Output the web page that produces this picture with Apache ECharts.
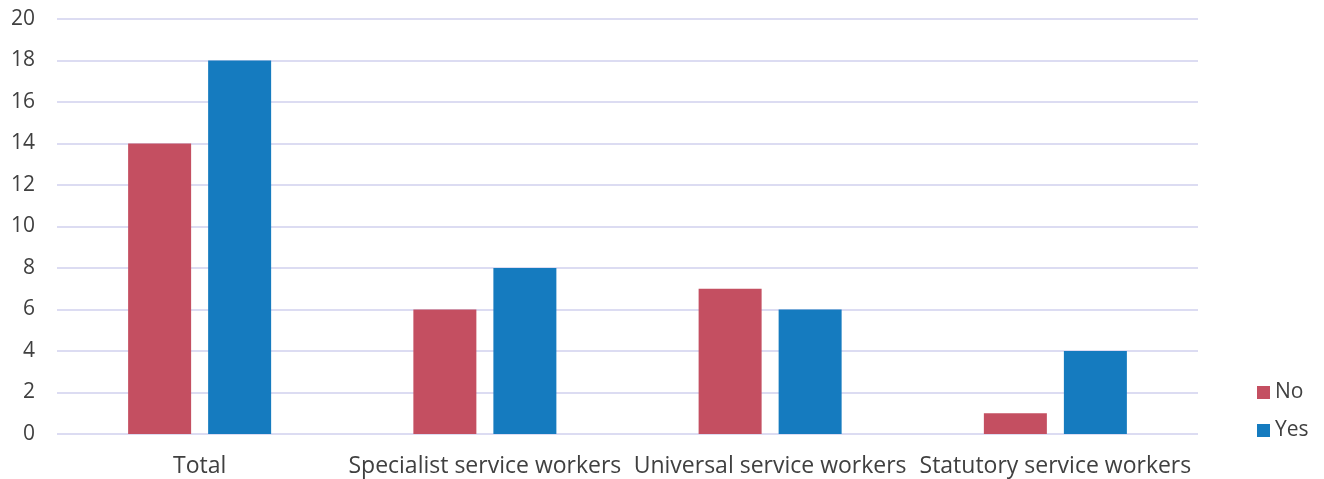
<!DOCTYPE html>
<html>
<head>
<meta charset="utf-8">
<script src="https://cdn.jsdelivr.net/npm/echarts@6/dist/echarts.min.js"></script>
<style>
  html, body { margin: 0; padding: 0; background: #fff; }
  #chart { width: 1324px; height: 479px; }
</style>
</head>
<body>
<div id="chart"></div>
<script>
const categories = ['Total', 'Specialist service workers', 'Universal service workers', 'Statutory service workers'];
const noValues = [14, 6, 7, 1];
const yesValues = [18, 8, 6, 4];
const yTicks = [0, 2, 4, 6, 8, 10, 12, 14, 16, 18, 20];

const FONT = '"Open Sans", "DejaVu Sans", sans-serif';
const chart = echarts.init(document.getElementById('chart'));
chart.setOption({
  animation: false,
  textStyle: { fontFamily: FONT },
  grid: { left: 57, right: 126, top: 19, bottom: 45, containLabel: false },
  legend: {
    orient: 'vertical',
    left: 1252,
    top: 377,
    itemWidth: 13,
    itemHeight: 13,
    itemGap: 17,
    icon: 'rect',
    textStyle: { fontSize: 21, color: '#404040', fontFamily: FONT },
    data: ['No', 'Yes']
  },
  xAxis: {
    type: 'category',
    data: categories,
    axisLine: { show: false },
    axisTick: { show: false },
    axisLabel: { fontSize: 23, color: '#404040', margin: 21, interval: 0 }
  },
  yAxis: {
    type: 'value',
    min: yTicks[0],
    max: yTicks[yTicks.length - 1],
    interval: 2,
    axisLine: { show: false },
    axisTick: { show: false },
    axisLabel: { fontSize: 21, color: '#404040', margin: 22 },
    splitLine: { lineStyle: { color: '#dcdcf2', width: 2 } }
  },
  series: [
    {
      name: 'No',
      type: 'bar',
      data: noValues,
      barWidth: 63,
      barGap: '27%',
      itemStyle: { color: '#c44f61' }
    },
    {
      name: 'Yes',
      type: 'bar',
      data: yesValues,
      barWidth: 63,
      itemStyle: { color: '#157bbf' }
    }
  ]
});
</script>
</body>
</html>
